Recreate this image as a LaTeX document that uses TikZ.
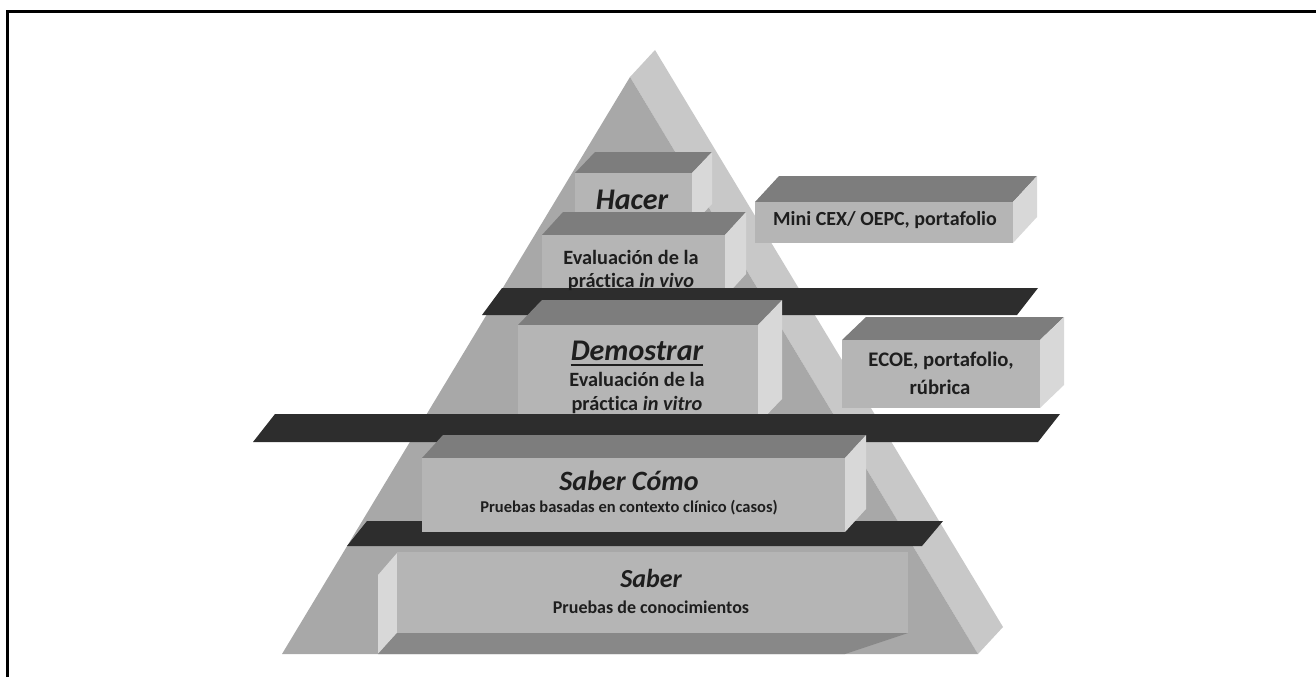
\documentclass[tikz,border=0pt]{standalone}
\usepackage{fontspec}
\setmainfont{Carlito}[Ligatures=NoCommon]
\definecolor{pyrfront}{HTML}{A8A8A8}
\definecolor{pyrside}{HTML}{C8C8C8}
\definecolor{boxfront}{HTML}{B5B5B5}
\definecolor{boxtop}{HTML}{7D7D7D}
\definecolor{boxside}{HTML}{D8D8D8}
\definecolor{barfill}{HTML}{2D2D2D}
\definecolor{boxbottom}{HTML}{888888}
\definecolor{ink}{HTML}{1E1E1E}
\tikzset{
	pyr front/.style={fill=pyrfront},
	pyr side/.style={fill=pyrside},
	box front/.style={fill=boxfront},
	box top/.style={fill=boxtop},
	box side/.style={fill=boxside},
	box bottom/.style={fill=boxbottom},
	dark bar/.style={fill=barfill},
	level title/.style={
		inner sep=0pt,
		anchor=base,
		text=ink,
		font=\bfseries\itshape\fontsize{#1}{#1}\selectfont
	},
	level title/.default=30,
	level text/.style={
		inner sep=0pt,
		anchor=base,
		text=ink,
		font=\bfseries\fontsize{#1}{#1}\selectfont
	},
	level text/.default=20.3,
}
% left, top, right, bottom, dx, depth
\newcommand{\cuboid}[6]{%
	\fill[box top] (#1,#2) -- (#1+#5,#2-#6) -- (#3+#5,#2-#6) -- (#3,#2) -- cycle;
	\fill[box side] (#3,#2) -- (#3+#5,#2-#6) -- (#3+#5,#4-#6) -- (#3,#4) -- cycle;
	\fill[box front] (#1,#2) rectangle (#3,#4);
}

\begin{document}
\begin{tikzpicture}[x=1pt, y=-1pt]

\useasboundingbox (0,0) rectangle (1316,677);

% frame
\draw[line width=3pt] (7.5,677) -- (7.5,11.5) -- (1316,11.5);

% pyramid
\fill[pyr side] (630,77) -- (655,50) -- (1003,627) -- (978,654) -- cycle;
\fill[pyr front] (630,77) -- (978,654) -- (282,654) -- cycle;

% upper boxes
\cuboid{575}{173}{692}{225}{20}{21}
\cuboid{542}{235}{725}{297}{21}{23}

\fill[dark bar] (482,315) -- (1017,315) -- (1038,288) -- (502,288) -- cycle;

\cuboid{518}{325}{758}{424}{24}{25}
\cuboid{755}{202}{1013}{243}{24}{26}
\cuboid{842}{340}{1040}{408}{24}{23}

\fill[dark bar] (253,442) -- (1038,442) -- (1060,414) -- (275,414) -- cycle;
\fill[dark bar] (347,546) -- (922,546) -- (943,521) -- (367,521) -- cycle;

\cuboid{422}{458}{845}{532}{21}{23}

% bottom box, seen from below
\fill[box side] (397,553) -- (378,575) -- (378,654) -- (397,633) -- cycle;
\fill[box bottom] (397,633) -- (908,633) -- (845,654) -- (378,654) -- cycle;
\fill[box front] (397,552) rectangle (908,633);

% texts
\node[level title] (hacer) at (632,209) {Hacer};
\node[level text] (vivo-1) at (631,264) {Evaluación de la};
\node[level text] (vivo-2) at (631,287) {práctica \textit{in vivo}};

\node[level text=20] (mini) at (885,225) {Mini CEX/ OEPC, portafolio};

\node[level title] (demo) at (637,360) {Demostrar};
\draw[ink, line width=1.5pt] ([yshift=-5pt]demo.base west) -- ([yshift=-5pt]demo.base east);
\node[level text] (vitro-1) at (637,386) {Evaluación de la};
\node[level text] (vitro-2) at (637,410) {práctica \textit{in vitro}};

\node[level text=20.7] (ecoe-1) at (941,366) {ECOE, portafolio,};
\node[level text=20.7] (ecoe-2) at (940,394) {rúbrica};

\node[level title=28] (como) at (629,490) {Saber Cómo};
\node[level text=16.5] (como-sub) at (629,512) {Pruebas basadas en contexto clínico (casos)};

\node[level title=26] (saber) at (651,587) {Saber};
\node[level text=18] (saber-sub) at (651,613) {Pruebas de conocimientos};

\end{tikzpicture}
\end{document}
